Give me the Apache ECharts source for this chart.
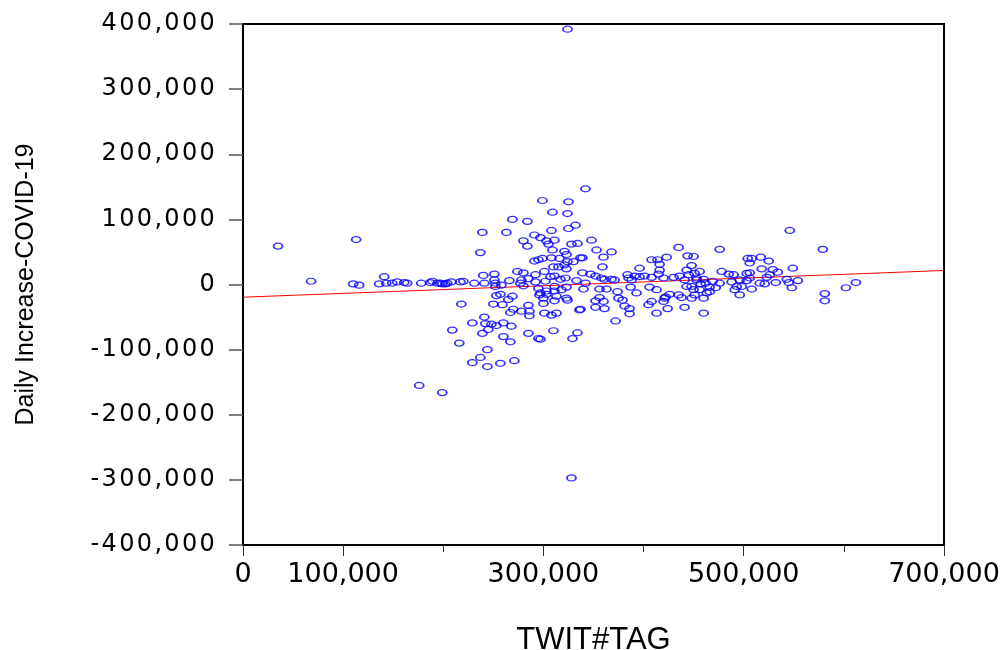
<!DOCTYPE html>
<html>
<head>
<meta charset="utf-8">
<title>Daily Increase-COVID-19 vs TWIT#TAG</title>
<script src="https://cdn.jsdelivr.net/npm/echarts@6/dist/echarts.min.js"></script>
<style>
  html, body { margin: 0; padding: 0; background: #fff; }
  #chart { width: 1007px; height: 650px; }
</style>
</head>
<body>
<div id="chart"></div>
<script>
// values, in thousands
const twitK = [
  35, 113, 68, 110, 116, 136, 141, 143, 149, 154, 161, 164, 178, 187, 189, 194, 199, 202, 204, 208, 217, 209, 216, 176, 199,
  299, 325, 309, 324, 269, 284, 239, 263, 308, 332, 291, 297, 280, 303, 311, 305, 328, 284, 237, 309, 321, 323, 291, 295, 299,
  308, 316, 324, 321, 310, 315, 323, 274, 280, 292, 301, 240, 251, 197, 220, 231, 241, 251, 252, 266, 278, 277, 285, 292, 302,
  307, 311, 317, 322, 280, 258, 252, 253, 257, 269, 296, 303, 313,
  218, 250, 259, 265, 270, 267, 278, 285, 286, 286, 241, 242, 229, 248, 253, 260, 268, 245, 239, 260, 267, 285, 295, 297, 310,
  244, 237, 229, 244, 257, 271, 301, 308, 313, 329, 334, 328, 300, 311, 324, 336, 295, 297, 303, 311, 300, 323, 311, 318,
  324, 342, 325, 348, 334, 353, 368, 337, 339, 360, 330, 359, 339, 347, 352, 358, 361, 368, 371, 384, 385, 388, 396, 396, 333,
  342, 323, 340, 356, 363, 374, 393, 356, 360, 352, 361, 337, 379, 381, 386, 386, 372,
  435, 444, 423, 448, 443, 408, 414, 416, 416, 391, 401, 408, 415, 420, 430, 436, 441, 445, 451, 453, 387, 406, 413, 426, 435,
  443, 450, 375, 421, 438, 352, 405, 408, 413, 420, 422, 424, 441, 448, 451, 448,
  546, 579, 476, 504, 508, 506, 517, 525, 518, 529, 534, 549, 503, 506, 478, 485, 490, 526, 450, 456, 476, 488, 496, 503, 506,
  516, 521, 523, 532, 543, 545, 554, 548, 493, 498, 491, 508, 496, 460, 581, 581, 466, 460, 453, 457, 460, 462, 466, 469, 456,
  463, 472, 602, 612
];
const dailyK = [
  59, 69, 5, 1, -1, 1, 12, 2, 2, 4, 3, 2, 2, 3, 5, 2, 1, 1, 2, 4, 4, -70, -90, -155, -166,
  129, 127, 111, 109, 100, 97, 80, 80, 83, 91, 76, 72, 67, 67, 68, 62, 62, 59, 49, 53, 51, 46, 36, 38, 40,
  41, 40, 35, 30, 27, 27, 24, 20, 18, 15, 20, 14, 16, 2, 5, 2, 2, 7, 2, 6, 7, 2, 9, 4, 5,
  12, 13, 8, 10, -2, -1, -3, -17, -15, -18, -16, -15, -18,
  -30, -30, -31, -23, -38, -43, -41, -32, -41, -48, -50, -60, -59, -61, -63, -59, -64, -69, -75, -80, -88, -75, -83, -84, -71,
  -100, -112, -120, -126, -121, -117, -44, -47, -44, -83, -74, -297, -29, -25, -24, -39, -6, -13, -10, -10, -21, -21, -3, -8,
  392, 147, 86, 68, 63, 53, 50, 41, 41, 42, 35, 27, 18, 16, 13, 10, 8, 8, 7, 15, 10, 7, 25, 12, 6,
  2, -4, -7, -7, -7, -11, -13, -20, -26, -35, -37, -38, -24, -33, -37, -45, -56,
  57, 44, 42, 29, 22, 38, 38, 31, 22, 13, 13, 11, 16, 10, 11, 13, 7, 15, 17, 10, -4, -4, -8, -15, -16,
  -3, -8, -21, -21, -20, -25, -31, -26, -44, -26, -19, -37, -35, -21, -16, -3,
  83, 54, 54, 40, 40, 33, 42, 36, 24, 23, 19, 25, 17, 18, 20, 16, 15, 15, 43, 20, 2, 4, 7, 6, 10,
  2, 1, 11, 3, 8, 3, 6, -5, -3, -3, -8, -7, -16, -44, -14, -25, -11, -21, 7, 1, 8, 2, -4, 5, -8,
  -13, -5, -5, 3
];
// least squares line end points (x, y) in thousands
const fitX = [0, 700];
const fitY = [-19.5, 21.5];

const yTicks = [-400000, -300000, -200000, -100000, 0, 100000, 200000, 300000, 400000];
const xLabelValues = [0, 100000, 300000, 500000, 700000];

const points = twitK.map((x, i) => [x * 1000, dailyK[i] * 1000]);
const fitLine = fitX.map((x, i) => [x * 1000, fitY[i] * 1000]);

const fmt = (v) => Number(v).toLocaleString('en-US');

// y labels in the picture are drawn wide, so give each char its own box
const wideFmt = (v) => fmt(v).split('').map((ch) => {
  if (ch === ',') return '{c|,}';
  if (ch === '-') return '{m|-}';
  return '{d|' + ch + '}';
}).join('');

const labelFont = { fontFamily: 'DejaVu Sans', fontSize: 24, color: '#000', align: 'center' };

const chartDom = document.getElementById('chart');
const myChart = echarts.init(chartDom, null, { renderer: 'canvas' });

const option = {
  animation: false,
  backgroundColor: '#ffffff',
  grid: {
    left: 243,
    right: 63,
    top: 24,
    bottom: 105,
    containLabel: false,
    outerBoundsMode: 'none',
    show: true,
    borderColor: '#000',
    borderWidth: 2,
    backgroundColor: 'transparent'
  },
  xAxis: [
    {
      type: 'value',
      min: 0,
      max: 700000,
      interval: 100000,
      name: 'TWIT#TAG',
      nameLocation: 'middle',
      nameGap: 80,
      nameTextStyle: { fontFamily: 'Liberation Sans', fontSize: 31, color: '#000' },
      axisLine: { show: true, onZero: false, lineStyle: { color: '#000', width: 2 } },
      axisTick: { show: true, length: 7, lineStyle: { color: '#333', width: 1 } },
      axisLabel: {
        customValues: xLabelValues,
        formatter: fmt,
        margin: 16,
        fontFamily: 'DejaVu Sans',
        fontSize: 27,
        color: '#000'
      },
      splitLine: { show: false }
    },
    {
      type: 'value',
      position: 'bottom',
      min: 0,
      max: 700000,
      interval: 100000,
      axisLine: { show: false, onZero: false },
      axisTick: { show: true, length: 11, customValues: xLabelValues, lineStyle: { color: '#333', width: 1 } },
      axisLabel: { show: false },
      splitLine: { show: false }
    }
  ],
  yAxis: {
    type: 'value',
    min: -400000,
    max: 400000,
    interval: 100000,
    name: 'Daily Increase-COVID-19',
    nameLocation: 'middle',
    nameRotate: 90,
    nameGap: 204,
    nameTextStyle: { fontFamily: 'Liberation Sans', fontSize: 25, color: '#000' },
    axisLine: { show: true, onZero: false, lineStyle: { color: '#000', width: 2 } },
    axisTick: { show: true, length: 14, customValues: yTicks, lineStyle: { color: '#555', width: 1.5 } },
    axisLabel: {
      formatter: wideFmt,
      margin: 27,
      fontFamily: 'DejaVu Sans',
      fontSize: 24,
      color: '#000',
      rich: {
        d: Object.assign({ width: 17.6 }, labelFont),
        c: Object.assign({ width: 10 }, labelFont),
        m: Object.assign({ width: 11 }, labelFont)
      }
    },
    splitLine: { show: false }
  },
  series: [
    {
      name: 'fit',
      type: 'line',
      data: fitLine,
      symbol: 'none',
      silent: true,
      lineStyle: { color: '#ff0000', width: 1 },
      z: 1
    },
    {
      name: 'Daily Increase-COVID-19',
      type: 'scatter',
      data: points,
      symbol: 'circle',
      symbolSize: [9, 6],
      itemStyle: { color: 'rgba(0,0,0,0)', borderColor: '#0000ff', borderWidth: 1.5 },
      z: 2
    }
  ]
};

myChart.setOption(option);
</script>
</body>
</html>
